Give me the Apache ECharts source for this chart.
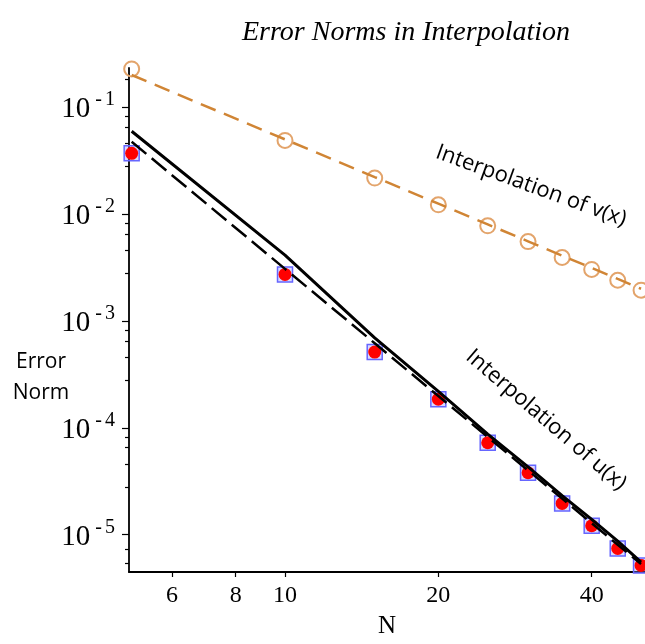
<!DOCTYPE html>
<html><head><meta charset="utf-8">
<script src="https://cdn.jsdelivr.net/npm/echarts@6/dist/echarts.min.js"></script>
<style>html,body{margin:0;padding:0;background:#fff}#c{width:645px;height:644px}</style>
</head><body><div id="c"></div>
<script>
// ---- data ----
const N = [5, 10, 15, 20, 25, 30, 35, 40, 45, 50];
const vPoints = [0.228, 0.0489, 0.0217, 0.0122, 0.00776, 0.00552, 0.00392, 0.00303, 0.0024, 0.00194];
const vLine   = [0.200, 0.0500, 0.0222, 0.0125, 0.0080, 0.00556, 0.00408, 0.00313, 0.00247, 0.00200];
const uPoints = [0.0370, 0.00272, 5.11e-4, 1.85e-4, 7.24e-5, 3.79e-5, 1.96e-5, 1.21e-5, 7.42e-6, 5.15e-6];
const uSolid  = [0.0596, 0.00412, 6.93e-4, 2.19e-4, 8.72e-5, 4.31e-5, 2.32e-5, 1.39e-5, 8.67e-6, 5.53e-6];
const uDashed = [0.0475, 0.00307, 6.18e-4, 1.98e-4, 8.20e-5, 3.99e-5, 2.17e-5, 1.28e-5, 8.04e-6, 5.30e-6];
const xTicks = [6, 8, 10, 20, 40];
const yTicks = [1e-5, 1e-4, 1e-3, 1e-2, 1e-1];
const yMinorTicks = [0.184,
  0.082, 0.065, 0.046, 0.028,
  0.0082, 0.0065, 0.0046, 0.0028,
  8.2e-4, 6.5e-4, 4.6e-4, 2.8e-4,
  8.2e-5, 6.5e-5, 4.6e-5, 2.8e-5,
  7.26e-6, 5.44e-6];
const titleText = 'Error Norms in Interpolation';
const vLabel = 'Interpolation of v(x)';
const uLabel = 'Interpolation of u(x)';
const xName = 'N';
const yName = 'Error\nNorm';

const pair = (ys) => N.map((n, i) => [n, ys[i]]);
const X_MIN = 4.94, X_MAX = 50.9, Y_MIN = 4.467e-6, Y_MAX = 0.2327;

const chart = echarts.init(document.getElementById('c'), null, {renderer: 'canvas'});
const serif = 'Liberation Serif';

chart.setOption({
  animation: false,
  backgroundColor: '#fff',
  grid: {left: 129, right: 0, top: 68, bottom: 68, containLabel: false},
  xAxis: {
    type: 'log', logBase: 10, min: X_MIN, max: X_MAX,
    name: xName, nameLocation: 'middle', nameGap: 42,
    nameTextStyle: {fontFamily: serif, fontSize: 25, color: '#000'},
    axisLine: {show: true, lineStyle: {color: '#000', width: 1.8}},
    axisTick: {show: true, customValues: xTicks, length: 5, lineStyle: {color: '#000', width: 1.2}},
    axisLabel: {show: true, customValues: xTicks, margin: 12, fontFamily: serif, fontSize: 24, color: '#000',
      formatter: v => String(Math.round(v))},
    splitLine: {show: false}, minorTick: {show: false}
  },
  yAxis: [{
    type: 'log', logBase: 10, min: Y_MIN, max: Y_MAX, position: 'left',
    axisLine: {show: true, lineStyle: {color: '#000', width: 1.8}},
    axisTick: {show: true, customValues: yTicks, length: 7, lineStyle: {color: '#000', width: 1.2}},
    axisLabel: {show: true, customValues: yTicks, margin: 14,
      formatter: v => '{b|10}{m|-}{s|' + Math.round(-Math.log10(v)) + '}',
      rich: {
        b: {fontFamily: serif, fontSize: 29, lineHeight: 34, verticalAlign: 'bottom', color: '#000'},
        m: {fontFamily: serif, fontSize: 20, lineHeight: 22, verticalAlign: 'top', color: '#000', padding: [0, 3, 0, 5]},
        s: {fontFamily: serif, fontSize: 20, lineHeight: 22, verticalAlign: 'top', color: '#000'}
      }},
    splitLine: {show: false}
  }, {
    type: 'log', logBase: 10, min: Y_MIN, max: Y_MAX, position: 'left',
    axisLine: {show: false},
    axisTick: {show: true, customValues: yMinorTicks, length: 4, lineStyle: {color: '#000', width: 1.2}},
    axisLabel: {show: false},
    splitLine: {show: false}
  }],
  graphic: [
    {type: 'text', x: 406, y: 33, style: {text: titleText, font: 'italic 28px "Liberation Serif"', fill: '#000', align: 'center', verticalAlign: 'middle'}},
    {type: 'text', x: 41, y: 378, style: {text: yName, font: '21px "Open Sans"', lineHeight: 31, fill: '#000', align: 'center', verticalAlign: 'middle'}},
    {type: 'text', x: 531, y: 186, rotation: -20 * Math.PI / 180, style: {text: vLabel, font: '22px "Open Sans"', fill: '#000', align: 'center', verticalAlign: 'middle'}},
    {type: 'text', x: 546, y: 420, rotation: -40.6 * Math.PI / 180, style: {text: uLabel, font: '22px "Open Sans"', fill: '#000', align: 'center', verticalAlign: 'middle'}}
  ],
  series: [
    {type: 'scatter', data: pair(vPoints), symbol: 'circle', symbolSize: 15,
      itemStyle: {color: 'rgba(0,0,0,0)', borderColor: '#E3A46B', borderWidth: 2, opacity: 1}},
    {type: 'line', data: pair(vLine), showSymbol: false, symbol: 'none',
      lineStyle: {color: '#D08535', width: 2.5, type: [16, 9]}},
    {type: 'scatter', data: pair(uPoints), symbol: 'rect', symbolSize: 15,
      itemStyle: {color: 'rgba(150,150,255,0.35)', borderColor: '#6666FF', borderWidth: 1.5, opacity: 1}},
    {type: 'scatter', data: pair(uPoints), symbol: 'circle', symbolSize: 13,
      itemStyle: {color: '#FF0000', opacity: 1}},
    {type: 'line', data: pair(uSolid), showSymbol: false, symbol: 'none',
      lineStyle: {color: '#000', width: 3}},
    {type: 'line', data: pair(uDashed), showSymbol: false, symbol: 'none',
      lineStyle: {color: '#000', width: 2.5, type: [19, 7]}}
  ]
});
</script>
</body></html>
